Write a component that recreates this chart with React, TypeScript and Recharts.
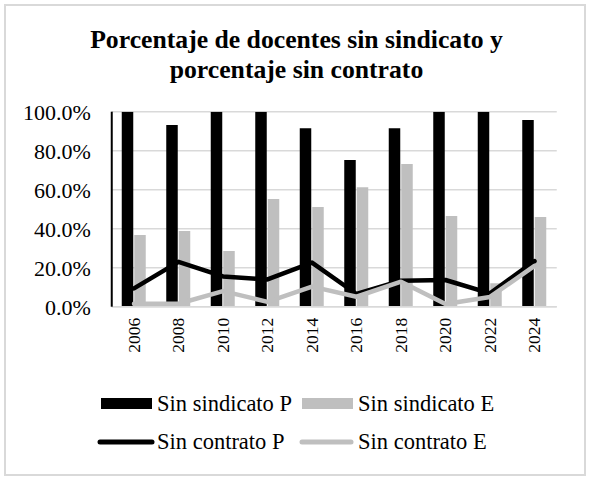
import React from 'react';
import { ComposedChart, Bar, Line, XAxis, YAxis, CartesianGrid, Legend } from 'recharts';

const years = ['2006', '2008', '2010', '2012', '2014', '2016', '2018', '2020', '2022', '2024'];
const sinSindicatoP = [100, 93.2, 100, 100, 91.5, 75.2, 91.5, 100, 100, 95.7];
const sinSindicatoE = [36.8, 38.8, 28.6, 55.2, 51.1, 61.2, 73.2, 46.5, 12, 46];
const sinContratoP = [9.4, 23, 15.5, 14, 22.6, 6.5, 13.3, 13.7, 6.8, 23.4];
const sinContratoE = [1.5, 1.5, 8, 2.5, 10.3, 5.1, 12.8, 1.4, 5, 20.9];
const yTicks = [0, 20, 40, 60, 80, 100];
const titleLines = ['Porcentaje de docentes sin sindicato y', 'porcentaje sin contrato'];

const data = years.map((y, i) => ({
  year: y,
  ssP: sinSindicatoP[i],
  ssE: sinSindicatoE[i],
  scP: sinContratoP[i],
  scE: sinContratoE[i],
}));

const FONT = '"Liberation Serif", "Times New Roman", serif';
const GRAY = '#bfbfbf';
const LEG_FS = 22.5;

const XTick = (props: any) => {
  const { x, y, payload } = props;
  const ty = y + 11;
  return (
    <text
      x={x}
      y={ty}
      transform={`rotate(-90, ${x}, ${ty})`}
      textAnchor="end"
      dominantBaseline="central"
      fontFamily={FONT}
      fontSize={17.5}
      fill="#000"
    >
      {payload.value}
    </text>
  );
};

const LegendContent = () => (
  <svg width={591} height={80} style={{ display: 'block' }}>
    <rect x={101} y={18} width={51} height={11} fill="#000" />
    <text x={157} y={23.5} dominantBaseline="central" fontFamily={FONT} fontSize={LEG_FS} fill="#000">Sin sindicato P</text>
    <rect x={302} y={18} width={51} height={11} fill={GRAY} />
    <text x={358} y={23.5} dominantBaseline="central" fontFamily={FONT} fontSize={LEG_FS} fill="#000">Sin sindicato E</text>
    <line x1={100} y1={62} x2={152} y2={62} stroke="#000" strokeWidth={5} strokeLinecap="round" />
    <text x={157} y={61.5} dominantBaseline="central" fontFamily={FONT} fontSize={LEG_FS} fill="#000">Sin contrato P</text>
    <line x1={302} y1={62} x2={351} y2={62} stroke={GRAY} strokeWidth={5} strokeLinecap="round" />
    <text x={358} y={61.5} dominantBaseline="central" fontFamily={FONT} fontSize={LEG_FS} fill="#000">Sin contrato E</text>
  </svg>
);

export default function App() {
  return (
    <div style={{ position: 'absolute', left: 0, top: 0, width: 591, height: 481, background: '#fff' }}>
      <div
        style={{
          position: 'absolute',
          left: 4,
          top: 4,
          width: 578,
          height: 468,
          border: '2px solid #d9d9d9',
        }}
      />
      <div
        style={{
          position: 'absolute',
          left: 0,
          top: 25,
          width: 593,
          textAlign: 'center',
          fontFamily: FONT,
          fontWeight: 'bold',
          fontSize: 25.7,
          lineHeight: '30px',
          color: '#000',
        }}
      >
        {titleLines.map((t) => (
          <div key={t}>{t}</div>
        ))}
      </div>
      <div style={{ position: 'absolute', left: 0, top: 0 }}>
        <ComposedChart
          width={591}
          height={481}
          data={data}
          margin={{ top: 111.7, right: 34.25, left: 0, bottom: 114.3 }}
          barGap={1}
        >
          <CartesianGrid horizontal vertical={false} stroke="#d9d9d9" strokeWidth={1.5} />
          <XAxis
            dataKey="year"
            height={60}
            tickLine={false}
            tickSize={0}
            tickMargin={0}
            axisLine={{ stroke: '#d9d9d9', strokeWidth: 1.5 }}
            tick={<XTick />}
            interval={0}
          />
          <YAxis
            width={111.75}
            domain={[0, 100]}
            ticks={yTicks}
            tickLine={false}
            tickSize={0}
            tickMargin={21}
            axisLine={{ stroke: '#000', strokeWidth: 2 }}
            tickFormatter={(v: number) => v.toFixed(1) + '%'}
            tick={{ fontFamily: FONT, fontSize: 22, fill: '#000' }}
            allowDataOverflow
          />
          <Legend
            layout="horizontal"
            verticalAlign="middle"
            align="center"
            wrapperStyle={{ top: 380, left: 0, width: 591, height: 80 }}
            content={<LegendContent />}
          />
          <Bar dataKey="ssP" name="Sin sindicato P" fill="#000" barSize={11.5} isAnimationActive={false} />
          <Bar dataKey="ssE" name="Sin sindicato E" fill={GRAY} barSize={11.5} isAnimationActive={false} />
          <Line
            dataKey="scP"
            name="Sin contrato P"
            type="linear"
            stroke="#000"
            strokeWidth={4.5}
            strokeLinejoin="round"
            strokeLinecap="round"
            dot={false}
            activeDot={false}
            isAnimationActive={false}
          />
          <Line
            dataKey="scE"
            name="Sin contrato E"
            type="linear"
            stroke={GRAY}
            strokeWidth={4.5}
            strokeLinejoin="round"
            strokeLinecap="round"
            dot={false}
            activeDot={false}
            isAnimationActive={false}
          />
        </ComposedChart>
      </div>
    </div>
  );
}
